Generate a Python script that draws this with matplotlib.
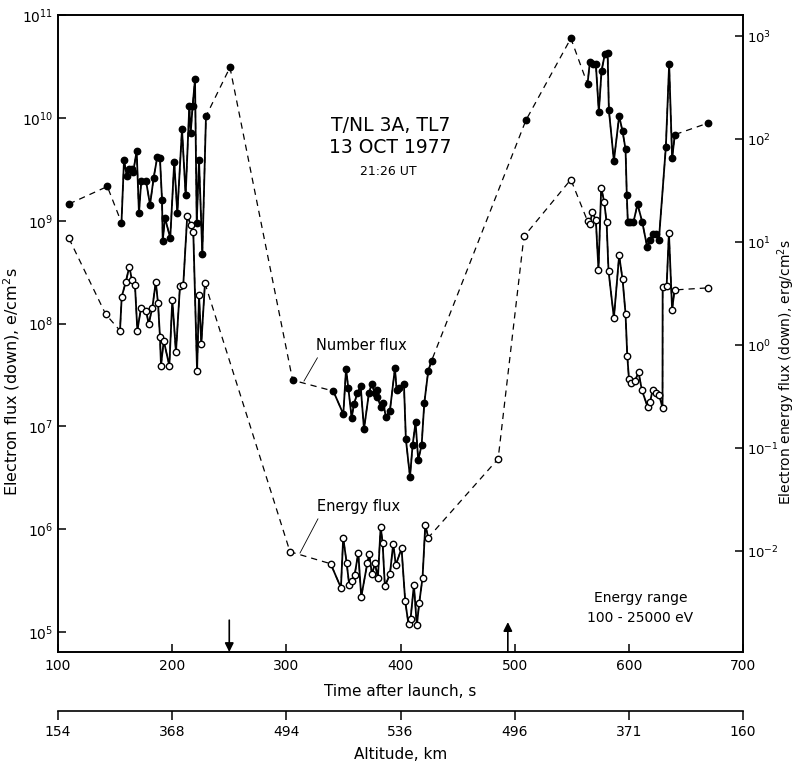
import numpy as np
import matplotlib
matplotlib.use("Agg")
import matplotlib.pyplot as plt
from matplotlib import ticker

# --- dane ---
# strumien liczby elektronow, e/cm^2 s (os lewa)
num_t = [109.6, 143.2, 155.6, 157.8, 160.2, 162.4, 164.8, 165.9, 168.9, 170.9,
         172.9, 177.1, 180.6, 183.8, 187.0, 189.3, 191.1, 191.7, 193.7, 198.3,
         201.8, 204.5, 208.6, 211.8, 215.0, 216.2, 217.9, 220.0, 221.5, 223.5,
         226.4, 229.6, 250.6,
         305.5, 341.1, 349.9, 352.3, 354.3, 357.2, 359.2, 362.1, 365.1, 368.0,
         372.3, 374.7, 377.6, 379.0, 379.6, 382.9, 384.9, 387.2, 390.7, 395.1,
         396.6, 398.9, 403.0, 404.7, 408.3, 410.6, 413.2, 415.5, 418.5, 420.8,
         424.3, 427.2,
         509.8, 549.2, 563.8, 565.8, 568.8, 571.1, 573.7, 576.1, 579.0, 581.4,
         582.5, 586.9, 591.5, 594.5, 597.1, 598.2, 599.1, 601.1, 604.0, 607.6,
         611.7, 616.0, 618.4, 621.3, 623.6, 626.3, 632.4, 635.3, 637.9, 640.3,
         668.9]
num_v = [1.46e9, 2.16e9, 9.6e8, 3.9e9, 2.73e9, 3.19e9, 3.19e9, 3.0e9, 4.8e9, 1.18e9,
         2.44e9, 2.44e9, 1.43e9, 2.64e9, 4.2e9, 4.06e9, 1.59e9, 6.4e8, 1.07e9, 6.8e8,
         3.76e9, 1.18e9, 7.8e9, 1.77e9, 1.31e10, 7.1e9, 1.31e10, 2.38e10, 9.5e8, 3.9e9,
         4.75e8, 1.04e10, 3.11e10,
         2.82e7, 2.21e7, 1.32e7, 3.64e7, 2.35e7, 1.22e7, 1.64e7, 2.1e7, 2.47e7, 9.4e6,
         2.1e7, 2.58e7, 2.1e7, 2.26e7, 1.95e7, 1.53e7, 1.68e7, 1.23e7, 1.42e7, 3.67e7,
         2.26e7, 2.35e7, 2.58e7, 7.5e6, 3.24e6, 6.6e6, 1.10e7, 4.7e6, 6.6e6, 1.68e7,
         3.48e7, 4.36e7,
         9.5e9, 5.96e10, 2.14e10, 3.48e10, 3.35e10, 3.33e10, 1.15e10, 2.88e10, 4.2e10, 4.3e10,
         1.2e10, 3.82e9, 1.05e10, 7.4e9, 4.99e9, 1.78e9, 9.7e8, 9.7e8, 9.7e8, 1.45e9,
         9.8e8, 5.6e8, 6.5e8, 7.4e8, 7.4e8, 6.5e8, 5.2e9, 3.35e10, 4.06e9, 6.9e9,
         8.9e9]

# strumien energii, erg/cm^2 s (os prawa)
en_t = [109.6, 141.8, 154.3, 155.8, 159.3, 162.5, 164.8, 167.4, 169.5, 172.7,
        177.3, 179.4, 182.6, 185.6, 187.6, 189.3, 190.2, 192.6, 197.5, 200.1,
        203.3, 206.8, 209.7, 213.2, 216.2, 218.5, 221.8, 223.5, 225.5, 228.7,
        303.2, 338.8, 347.8, 349.8, 352.8, 355.1, 357.2, 359.8, 363.0, 365.6,
        370.9, 372.6, 375.0, 377.6, 380.2, 382.6, 384.3, 386.3, 390.7, 393.6,
        395.9, 400.9, 404.1, 407.0, 408.8, 411.7, 414.3, 416.4, 419.3, 421.7,
        424.3,
        485.5, 508.1, 549.2, 563.8, 565.8, 568.1, 571.1, 573.4, 575.8, 578.4,
        580.5, 582.2, 586.9, 591.5, 594.5, 597.1, 598.6, 600.1, 602.3, 605.1,
        608.5, 611.4, 616.4, 618.5, 620.8, 623.7, 626.6, 629.5, 629.6, 633.1,
        635.1, 637.9, 640.0, 668.9]
en_v = [10.9, 2.0, 1.39, 2.97, 4.10, 5.82, 4.26, 3.86, 1.39, 2.31,
        2.14, 1.61, 2.31, 4.10, 2.56, 1.21, 0.634, 1.11, 0.634, 2.76,
        0.855, 3.75, 3.84, 18.2, 14.8, 12.5, 0.558, 3.11, 1.03, 4.01,
        0.0099, 0.00757, 0.00443, 0.01355, 0.00775, 0.00467, 0.00514, 0.00587, 0.00968, 0.00361,
        0.00764, 0.00935, 0.00597, 0.00764, 0.00553, 0.01734, 0.0121, 0.00459, 0.00597, 0.01186,
        0.00736, 0.0107, 0.00329, 0.00195, 0.0022, 0.0047, 0.00191, 0.00316, 0.00553, 0.01803,
        0.01355,
        0.079, 11.4, 40.7, 16.1, 15.2, 19.7, 16.3, 5.41, 34.0, 24.6,
        15.7, 5.25, 1.85, 7.45, 4.36, 2.02, 0.794, 0.471, 0.431, 0.447,
        0.546, 0.368, 0.253, 0.279, 0.368, 0.344, 0.329, 0.246, 3.67, 3.76,
        12.4, 2.21, 3.45, 3.61]

# przedzialy czasu z ciaglym pomiarem (linia ciagla), reszta przerywana
num_runs = [(155, 230), (341, 428), (563, 641)]
en_runs = [(154, 229), (338, 425), (563, 641)]

time_ticks = [100, 200, 300, 400, 500, 600, 700]
alt_labels = ["154", "368", "494", "536", "496", "371", "160"]
arrow_down_t = 250
arrow_up_t = 494


def draw_series(axis, t, v, runs, face):
    t = np.array(t)
    v = np.array(v)
    axis.plot(t, v, color="k", lw=0.9, ls=(0, (5, 4)), zorder=2)
    for a, b in runs:
        m = (t >= a) & (t <= b)
        axis.plot(t[m], v[m], color="k", lw=1.3, zorder=3)
    axis.plot(t, v, "o", ms=4.6, mfc=face, mec="k", mew=1.0, zorder=4)


fig = plt.figure(figsize=(7.98, 7.66), dpi=100)
ax = fig.add_axes([0.0727, 0.1488, 0.8584, 0.8313])
ax2 = ax.twinx()

ax.set_yscale("log")
ax2.set_yscale("log")
ax.set_xlim(100, 700)
ax.set_ylim(10 ** 4.806, 1e11)
ax2.set_ylim(10 ** -2.978, 10 ** 3.205)

draw_series(ax, num_t, num_v, num_runs, "k")
draw_series(ax2, en_t, en_v, en_runs, "white")

ax.set_xticks(time_ticks)
ax.set_yticks([10.0 ** k for k in range(5, 12)])
ax2.set_yticks([10.0 ** k for k in range(-2, 4)])
for a in (ax, ax2):
    a.yaxis.set_minor_locator(ticker.NullLocator())
    a.tick_params(direction="in", length=6, width=1.1, labelsize=10)
    for s in a.spines.values():
        s.set_linewidth(1.2)
ax.tick_params(axis="x", top=False, pad=5)
ax2.tick_params(axis="y", pad=3, labelsize=9.5)

ax.set_xlabel("Time after launch, s", fontsize=11, labelpad=8)
ax.set_ylabel("Electron flux (down), e/cm$^2$s", fontsize=11.5)
ax.yaxis.set_label_coords(-0.053, 0.425)
ax2.set_ylabel("Electron energy flux (down), erg/cm$^2$s", fontsize=10,
               rotation=90)
ax2.yaxis.set_label_coords(1.048, 0.44)

# druga os: wysokosc
sec = ax.secondary_xaxis(-0.0926)
sec.set_xticks(time_ticks, labels=alt_labels)
sec.tick_params(direction="out", length=6.5, width=1.1, labelsize=10)
sec.spines["bottom"].set_linewidth(1.2)
sec.spines["top"].set_linewidth(1.2)
sec.set_xlabel("Altitude, km", fontsize=11, labelpad=6)

# strzalki na osi czasu
ax.annotate("", xy=(arrow_down_t, 0.0), xytext=(arrow_down_t, 0.05),
            xycoords=("data", "axes fraction"),
            arrowprops=dict(arrowstyle="-|>", color="k", lw=1.2,
                            mutation_scale=13, shrinkA=0, shrinkB=0))
ax.annotate("", xy=(arrow_up_t, 0.047), xytext=(arrow_up_t, 0.0),
            xycoords=("data", "axes fraction"),
            arrowprops=dict(arrowstyle="-|>", color="k", lw=1.2,
                            mutation_scale=13, shrinkA=0, shrinkB=0))

# napisy
ax.text(0.485, 0.827, "T/NL 3A, TL7", transform=ax.transAxes, ha="center",
        va="center", fontsize=13.5)
ax.text(0.485, 0.793, "13 OCT 1977", transform=ax.transAxes, ha="center",
        va="center", fontsize=13.5)
ax.text(0.482, 0.754, "21:26 UT", transform=ax.transAxes, ha="center",
        va="center", fontsize=9)
ax.text(0.85, 0.085, "Energy range", transform=ax.transAxes, ha="center",
        va="center", fontsize=10)
ax.text(0.85, 0.053, "100 - 25000 eV", transform=ax.transAxes, ha="center",
        va="center", fontsize=10)

ax.annotate("Number flux", xy=(315.4, 10 ** 7.441), xytext=(325.9, 10 ** 7.792),
            fontsize=10.5, va="center", ha="left",
            arrowprops=dict(arrowstyle="-", lw=0.6, color="k",
                            shrinkA=2, shrinkB=0, relpos=(0.05, 0.0)))
ax.annotate("Energy flux", xy=(311.9, 10 ** 5.768), xytext=(326.5, 10 ** 6.226),
            fontsize=10.5, va="center", ha="left",
            arrowprops=dict(arrowstyle="-", lw=0.6, color="k",
                            shrinkA=2, shrinkB=0, relpos=(0.05, 0.0)))

fig.savefig("out.png", dpi=100)
